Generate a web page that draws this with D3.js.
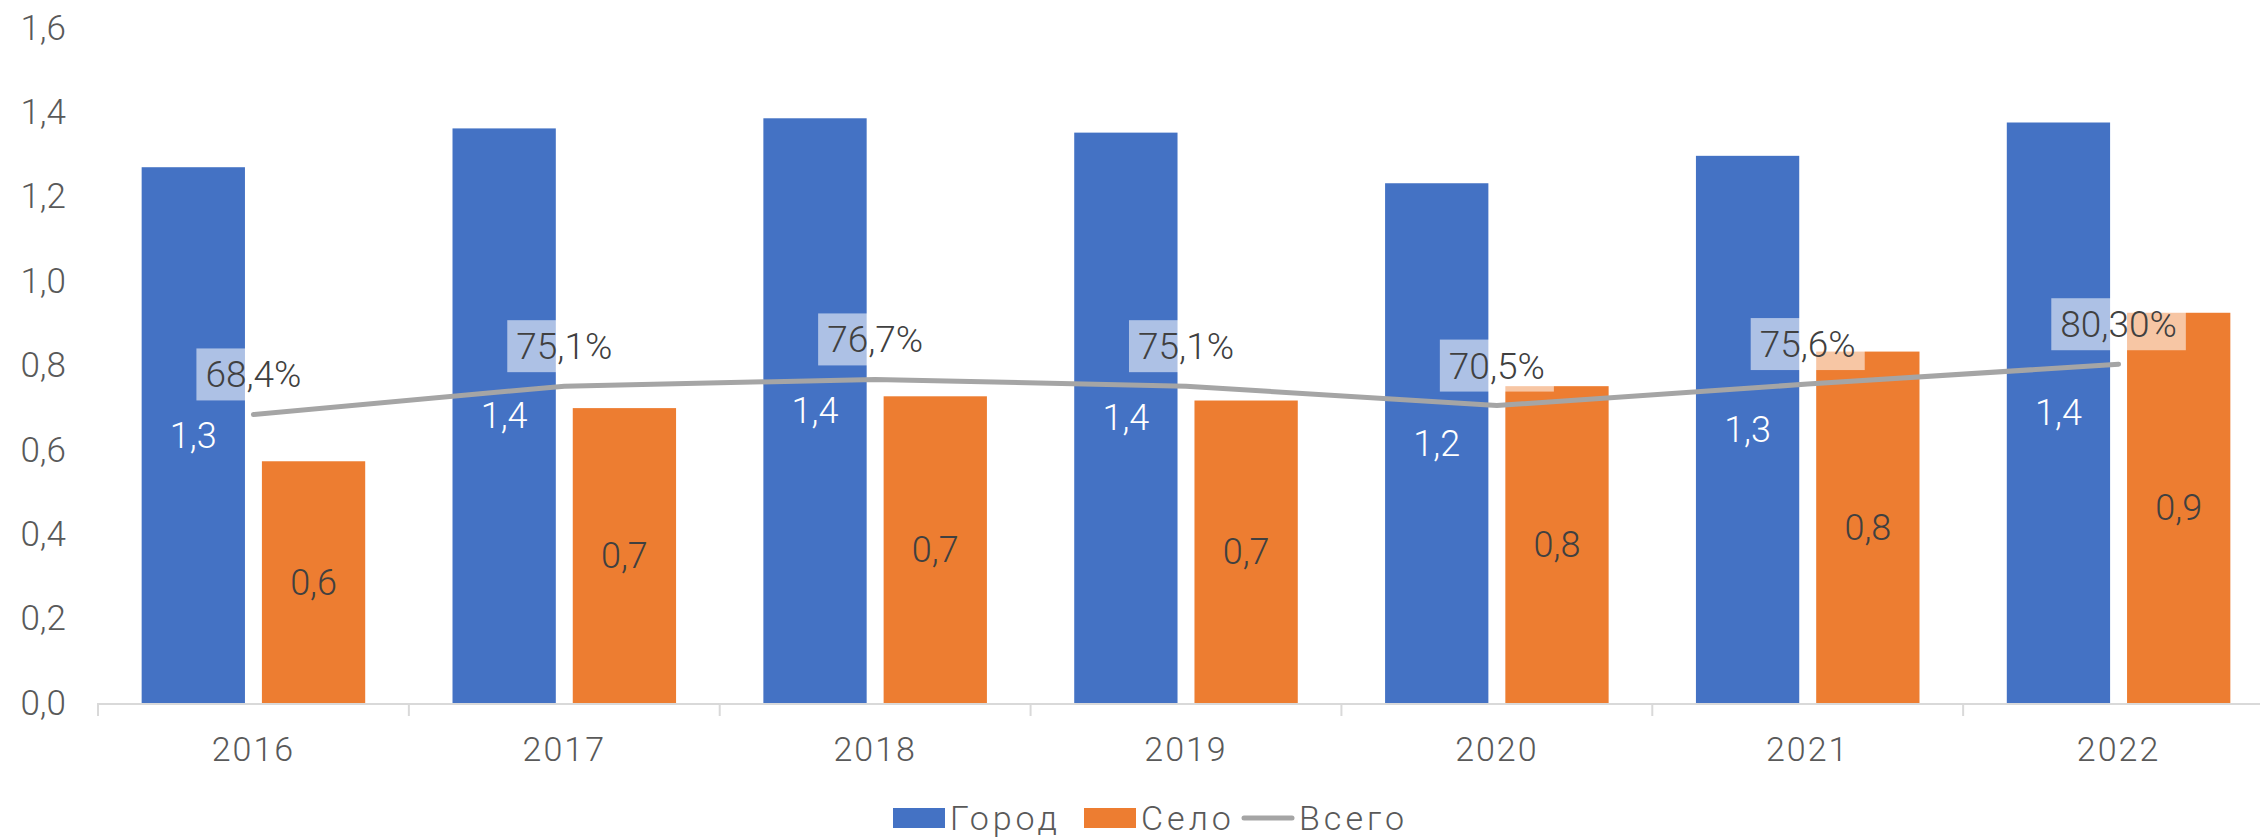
<!DOCTYPE html>
<html>
<head>
<meta charset="utf-8">
<script src="https://cdn.jsdelivr.net/npm/d3@7"></script>
<style>
  html, body { margin: 0; padding: 0; background: #fff; }
  svg { display: block; font-family: Roboto, "Open Sans", sans-serif; font-weight: 300; }
</style>
</head>
<body>
<svg id="chart" width="2260" height="839"></svg>
<script>
// data
var years = ["2016", "2017", "2018", "2019", "2020", "2021", "2022"];
var gorod = [1.270, 1.362, 1.386, 1.352, 1.232, 1.297, 1.376];
var selo = [0.573, 0.699, 0.727, 0.717, 0.751, 0.833, 0.925];
var vsego = [0.684, 0.751, 0.767, 0.751, 0.705, 0.756, 0.803];
var vsegoLabels = ["68,4%", "75,1%", "76,7%", "75,1%", "70,5%", "75,6%", "80,30%"];
var yTicks = [0, 0.2, 0.4, 0.6, 0.8, 1.0, 1.2, 1.4, 1.6];
var seriesNames = ["Город", "Село", "Всего"];
var colors = ["#4472C4", "#ED7D31", "#A5A5A5"];

var svg = d3.select("#chart");
var comma = function (v) { return d3.format(".1f")(v).replace(".", ","); };

// scales
var x = d3.scaleBand().domain(years).range([98, 2274]).padding(0);
var xSub = d3.scaleBand().domain(["Город", "Село"]).range([0, x.bandwidth()])
  .paddingInner(0.141).paddingOuter(0.363);
var y = d3.scaleLinear().domain([0, 1.6]).range([703, 28]);

// y axis (labels only)
var yAxis = svg.append("g")
  .attr("transform", "translate(66,0)")
  .call(d3.axisLeft(y).tickValues(yTicks).tickSize(0).tickPadding(0).tickFormat(comma));
yAxis.select(".domain").remove();
yAxis.selectAll("text")
  .style("font-family", "Roboto").style("font-weight", 300)
  .attr("font-size", "35px").attr("fill", "#595959");

// bars
var groups = svg.append("g").selectAll("g")
  .data(years)
  .join("g")
  .attr("transform", function (d) { return "translate(" + x(d) + ",0)"; });

groups.append("rect")
  .attr("x", xSub("Город"))
  .attr("width", xSub.bandwidth())
  .attr("y", function (d, i) { return y(gorod[i]); })
  .attr("height", function (d, i) { return y(0) - y(gorod[i]); })
  .attr("fill", colors[0]);

groups.append("rect")
  .attr("x", xSub("Село"))
  .attr("width", xSub.bandwidth())
  .attr("y", function (d, i) { return y(selo[i]); })
  .attr("height", function (d, i) { return y(0) - y(selo[i]); })
  .attr("fill", colors[1]);

// x axis line + boundary ticks
svg.append("line")
  .attr("x1", x.range()[0]).attr("x2", x.range()[1])
  .attr("y1", y(0) + 1).attr("y2", y(0) + 1)
  .attr("stroke", "#D9D9D9").attr("stroke-width", 2);
svg.append("g").selectAll("line")
  .data(years.concat(["end"]))
  .join("line")
  .attr("x1", function (d) { return d == "end" ? x.range()[1] : x(d); })
  .attr("x2", function (d) { return d == "end" ? x.range()[1] : x(d); })
  .attr("y1", y(0)).attr("y2", y(0) + 13)
  .attr("stroke", "#D9D9D9").attr("stroke-width", 2);

var xAxis = svg.append("g")
  .attr("transform", "translate(0," + y(0) + ")")
  .call(d3.axisBottom(x).tickSize(0).tickPadding(34));
xAxis.select(".domain").remove();
xAxis.selectAll("text")
  .style("font-family", "Roboto").style("font-weight", 300)
  .style("letter-spacing", "2px")
  .attr("font-size", "34px").attr("fill", "#595959");

// bar value labels
groups.append("text")
  .attr("x", xSub("Город") + xSub.bandwidth() / 2)
  .attr("y", function (d, i) { return (y(gorod[i]) + y(0)) / 2; })
  .attr("dy", "0.35em")
  .attr("text-anchor", "middle")
  .attr("font-size", "36px")
  .attr("fill", "#ffffff")
  .text(function (d, i) { return comma(gorod[i]); });

groups.append("text")
  .attr("x", xSub("Село") + xSub.bandwidth() / 2)
  .attr("y", function (d, i) { return (y(selo[i]) + y(0)) / 2; })
  .attr("dy", "0.35em")
  .attr("text-anchor", "middle")
  .attr("font-size", "36px")
  .attr("fill", "#404040")
  .text(function (d, i) { return comma(selo[i]); });

// total line
var line = d3.line()
  .x(function (d, i) { return x(years[i]) + x.bandwidth() / 2; })
  .y(function (d) { return y(d); });
svg.append("path")
  .datum(vsego)
  .attr("d", line)
  .attr("fill", "none")
  .attr("stroke", colors[2])
  .attr("stroke-width", 5)
  .attr("stroke-linecap", "round")
  .attr("stroke-linejoin", "round");

// percent labels with half-white boxes
var pctLabels = svg.append("g").selectAll("g")
  .data(vsego)
  .join("g")
  .attr("transform", function (d, i) {
    return "translate(" + (x(years[i]) + x.bandwidth() / 2) + "," + (y(d) - 40) + ")";
  });
pctLabels.append("rect").attr("class", "bg");
pctLabels.append("text")
  .attr("text-anchor", "middle")
  .attr("dy", "0.35em")
  .attr("font-size", "37px")
  .attr("fill", "#404040")
  .text(function (d, i) { return vsegoLabels[i]; });
pctLabels.each(function () {
  var g = d3.select(this);
  var bb = g.select("text").node().getBBox();
  g.select("rect.bg")
    .attr("x", bb.x - 9).attr("width", bb.width + 18)
    .attr("y", -26).attr("height", 52)
    .attr("fill", "#ffffff").attr("fill-opacity", 0.56);
});

// legend
var legend = svg.append("g").attr("transform", "translate(0,818)");
var legX = [893, 1084, 1242];
seriesNames.forEach(function (name, i) {
  var lg = legend.append("g").attr("transform", "translate(" + legX[i] + ",0)");
  if (i < 2) {
    lg.append("rect").attr("x", 0).attr("y", -10).attr("width", 52).attr("height", 20).attr("fill", colors[i]);
  } else {
    lg.append("line").attr("x1", 2).attr("x2", 50).attr("y1", 0).attr("y2", 0)
      .attr("stroke", colors[i]).attr("stroke-width", 5).attr("stroke-linecap", "round");
  }
  lg.append("text")
    .attr("x", 57).attr("dy", "0.35em")
    .attr("font-size", "34px").attr("fill", "#595959")
    .style("letter-spacing", "4px")
    .text(name);
});
</script>
</body>
</html>
